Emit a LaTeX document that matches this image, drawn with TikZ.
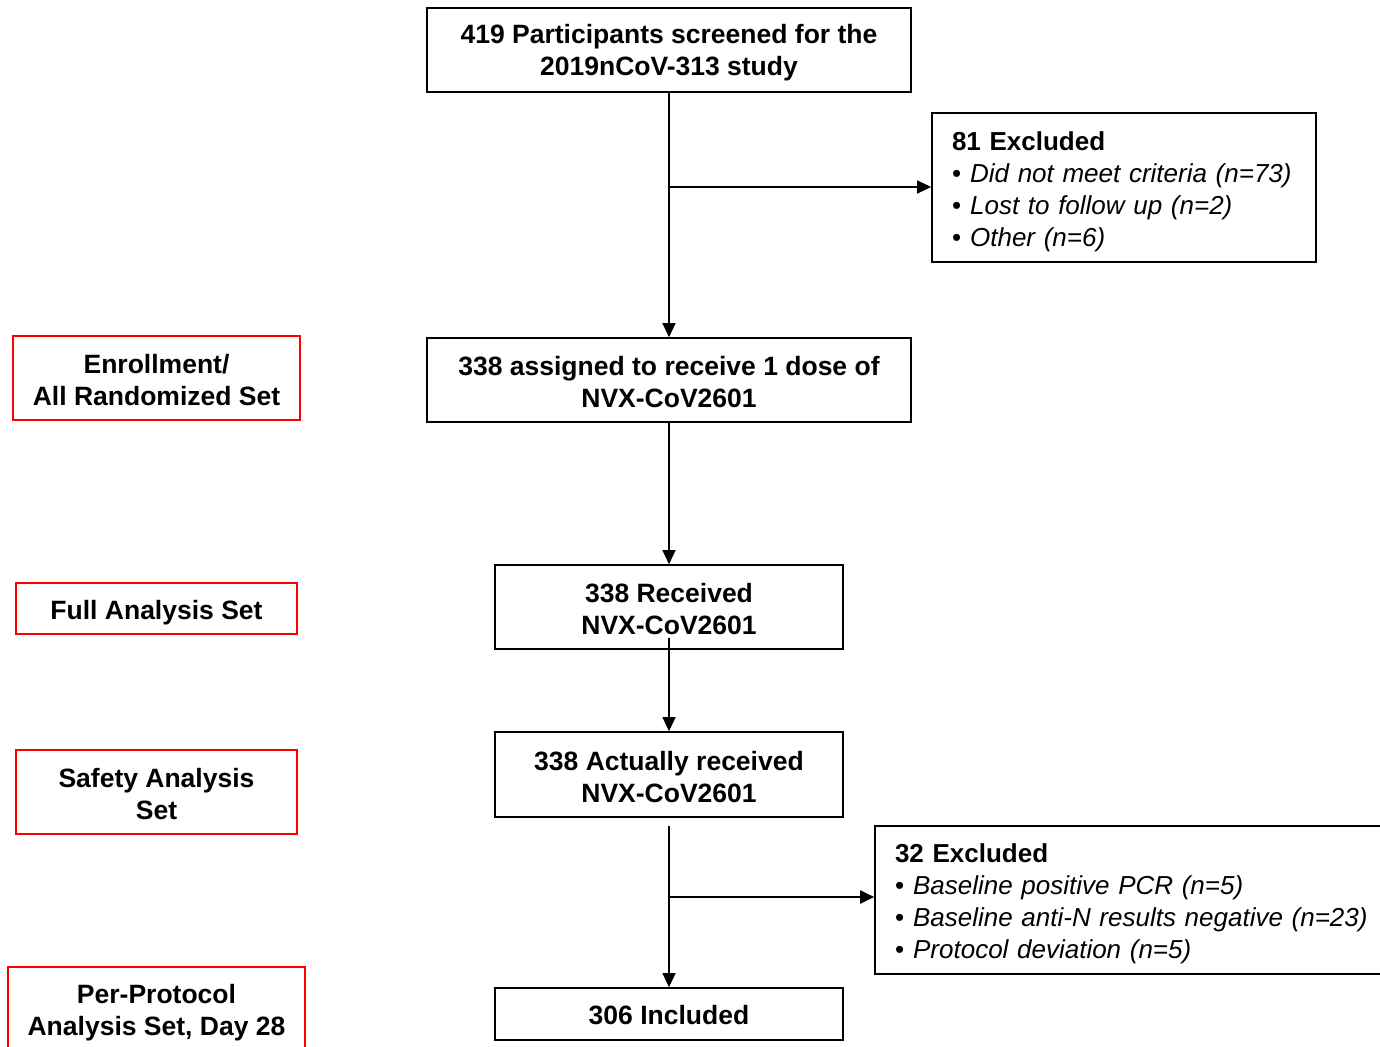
\documentclass[tikz,border=0pt]{standalone}
\usepackage{fontspec}
\setmainfont{Liberation Sans}
\usetikzlibrary{arrows.meta}
\newcommand\topstrut{\rule{0pt}{24pt}}
\begin{document}
\begin{tikzpicture}[x=1pt,y=-1pt,
  lift/.style={execute at begin node={\rule{0pt}{#1}}},
  box/.style={draw=black, line width=1.6pt, align=center, inner sep=0pt,
    font=\bfseries\fontsize{26.5}{32}\selectfont},
  redbox/.style={draw=red, line width=1.6pt, align=center, inner sep=0pt,
    font=\bfseries\fontsize{26.5}{32}\selectfont},
  exbox/.style={draw=black, line width=1.6pt, align=left, inner xsep=20pt, inner ysep=0pt,
    font=\fontsize{26}{32}\selectfont, lift=27pt},
  arr/.style={line width=1.2pt, -{Triangle[length=14pt,width=13pt]}}]
\useasboundingbox (0,0) rectangle (1380,1046);
\node[box, minimum width=484pt, minimum height=84pt] (n1) at (669,50)
  {\topstrut 419 Participants screened for the\\2019nCoV-313 study};
\node[exbox, minimum width=384pt, minimum height=149pt, text width=344pt] (ex1) at (1124,187.5)
  {\textbf{81 Excluded}\\
   •\hspace{9pt}\textit{Did not meet criteria (n=73)}\\
   •\hspace{9pt}\textit{Lost to follow up (n=2)}\\
   •\hspace{9pt}\textit{Other (n=6)}};
\node[box, minimum width=484pt, minimum height=84pt] (n2) at (669,380)
  {\topstrut 338 assigned to receive 1 dose of\\NVX-CoV2601};
\node[box, minimum width=348pt, minimum height=84pt] (n3) at (669,607)
  {\topstrut 338 Received\\NVX-CoV2601};
\node[box, minimum width=348pt, minimum height=85pt] (n4) at (669,774.5)
  {\topstrut 338 Actually received\\NVX-CoV2601};
\node[exbox, minimum width=515pt, minimum height=148pt, text width=475pt] (ex2) at (1132.5,900)
  {\textbf{32 Excluded}\\
   •\hspace{9pt}\textit{Baseline positive PCR (n=5)}\\
   •\hspace{9pt}\textit{Baseline anti-N results negative (n=23)}\\
   •\hspace{9pt}\textit{Protocol deviation (n=5)}};
\node[box, minimum width=348pt, minimum height=52pt, lift=22pt] (n5) at (669,1014)
  {306 Included};
\node[redbox, minimum width=287pt, minimum height=84pt] (r1) at (156.5,378)
  {\topstrut Enrollment/\\All Randomized Set};
\node[redbox, minimum width=281pt, minimum height=51pt, lift=28pt] (r2) at (156.5,608.5)
  {Full Analysis Set};
\node[redbox, minimum width=281pt, minimum height=84pt] (r3) at (156.5,792)
  {\topstrut Safety Analysis\\Set};
\node[redbox, minimum width=297pt, minimum height=86pt] (r4) at (156.5,1010)
  {\rule{0pt}{25pt}Per-Protocol\\Analysis Set, Day 28};
\coordinate (j1) at (669,187);
\coordinate (j2) at (669,897);
\draw[arr] (n1.south) -- (n2.north);
\draw[arr] (j1) -- (ex1.west |- j1);
\draw[arr] (n2.south) -- (n3.north);
\draw[arr] ([yshift=12pt]n3.south) -- (n4.north);
\draw[arr] ([yshift=-8pt]n4.south) -- (n5.north);
\draw[arr, line width=2pt] (j2) -- (ex2.west |- j2);
\end{tikzpicture}
\end{document}
